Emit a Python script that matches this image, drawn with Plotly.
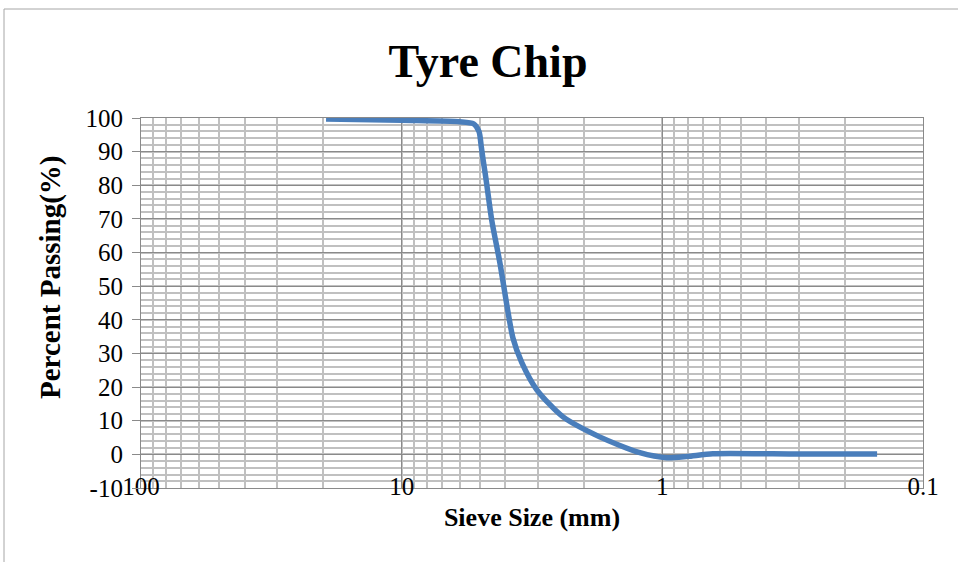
import plotly.graph_objects as go

# Data
sieve_mm = [19.5, 10.0, 6.0, 5.3, 5.05, 4.95, 4.88, 4.75, 4.51, 4.2, 3.74, 3.46, 3.03, 2.41, 1.74, 1.22, 0.96, 0.80, 0.64, 0.30, 0.15]
passing = [99.7, 99.3, 98.9, 98.3, 96.0, 91.5, 88.0, 82.0, 69.5, 57.0, 34.5, 27.3, 19.2, 11.2, 5.2, 0.5, -1.0, -0.6, 0.2, 0.1, 0.1]

x_tickvals = [100, 10, 1, 0.1]
x_ticktext = ["100", "10", "1", "0.1"]
y_tickvals = [-10, 0, 10, 20, 30, 40, 50, 60, 70, 80, 90, 100]
y_ticktext = ["-10", "0", "10", "20", "30", "40", "50", "60", "70", "80", "90", "100"]

FONT = "Liberation Serif"
W, H = 958, 562
ML, MR, MT, MB = 141, 35, 118, 74

fig = go.Figure()
fig.add_trace(go.Scatter(
    x=sieve_mm, y=passing, mode="lines",
    line=dict(color="#4a7ebb", width=5.5, shape="spline", smoothing=0.7),
    hoverinfo="x+y", showlegend=False,
))

pw = W - ML - MR
ph = H - MT - MB
# chart-area border (top and left edges visible)
bx = (4 - ML) / pw
by = 1 + (MT - 9) / ph
fig.add_shape(type="line", xref="paper", yref="paper", x0=bx, x1=2, y0=by, y1=by,
              line=dict(color="#a6a6a6", width=1))
fig.add_shape(type="line", xref="paper", yref="paper", x0=bx, x1=bx, y0=by, y1=-2,
              line=dict(color="#a6a6a6", width=1))

# y-axis title placed as in the reference (centered above plot centre)
fig.add_annotation(
    text="<b>Percent Passing(%)</b>", textangle=-90,
    xref="paper", yref="paper",
    x=(50 - ML) / pw, y=1 - (277 - MT) / ph,
    xanchor="center", yanchor="middle", showarrow=False,
    font=dict(family=FONT, size=29, color="black"),
)

fig.update_layout(
    width=W, height=H,
    margin=dict(l=ML, r=MR, t=MT, b=MB),
    paper_bgcolor="white", plot_bgcolor="white",
    font=dict(family=FONT, color="black", size=25),
    title=dict(text="<b>Tyre Chip</b>", x=488 / W, xanchor="center", xref="container",
               y=1 - 61 / H, yanchor="middle", yref="container",
               font=dict(family=FONT, size=46, color="black")),
    xaxis=dict(
        type="log", range=[2, -1],
        tickvals=x_tickvals, ticktext=x_ticktext,
        showgrid=True, gridcolor="#8a8a8a", gridwidth=1.2,
        minor=dict(dtick="D1", showgrid=True, gridcolor="#c0c0c0", gridwidth=1.5, ticks=""),
        showline=True, linecolor="#8a8a8a", linewidth=1.2, mirror=True,
        ticks="", zeroline=False,
        tickfont=dict(family=FONT, size=25),
        ticklabelstandoff=-24,
        title=dict(text="<b>Sieve Size (mm)</b>", font=dict(family=FONT, size=26), standoff=8),
    ),
    yaxis=dict(
        range=[-10, 100], tickvals=y_tickvals, ticktext=y_ticktext,
        showgrid=True, gridcolor="#8a8a8a", gridwidth=1.2,
        minor=dict(dtick=2, showgrid=True, gridcolor="#c0c0c0", gridwidth=1.5, ticks=""),
        showline=True, linecolor="#8a8a8a", linewidth=1.2, mirror=True,
        ticks="outside", ticklen=8, tickcolor="#8a8a8a",
        zeroline=False,
        tickfont=dict(family=FONT, size=25),
        ticklabelstandoff=4,
    ),
)

fig.write_html("out.html")
